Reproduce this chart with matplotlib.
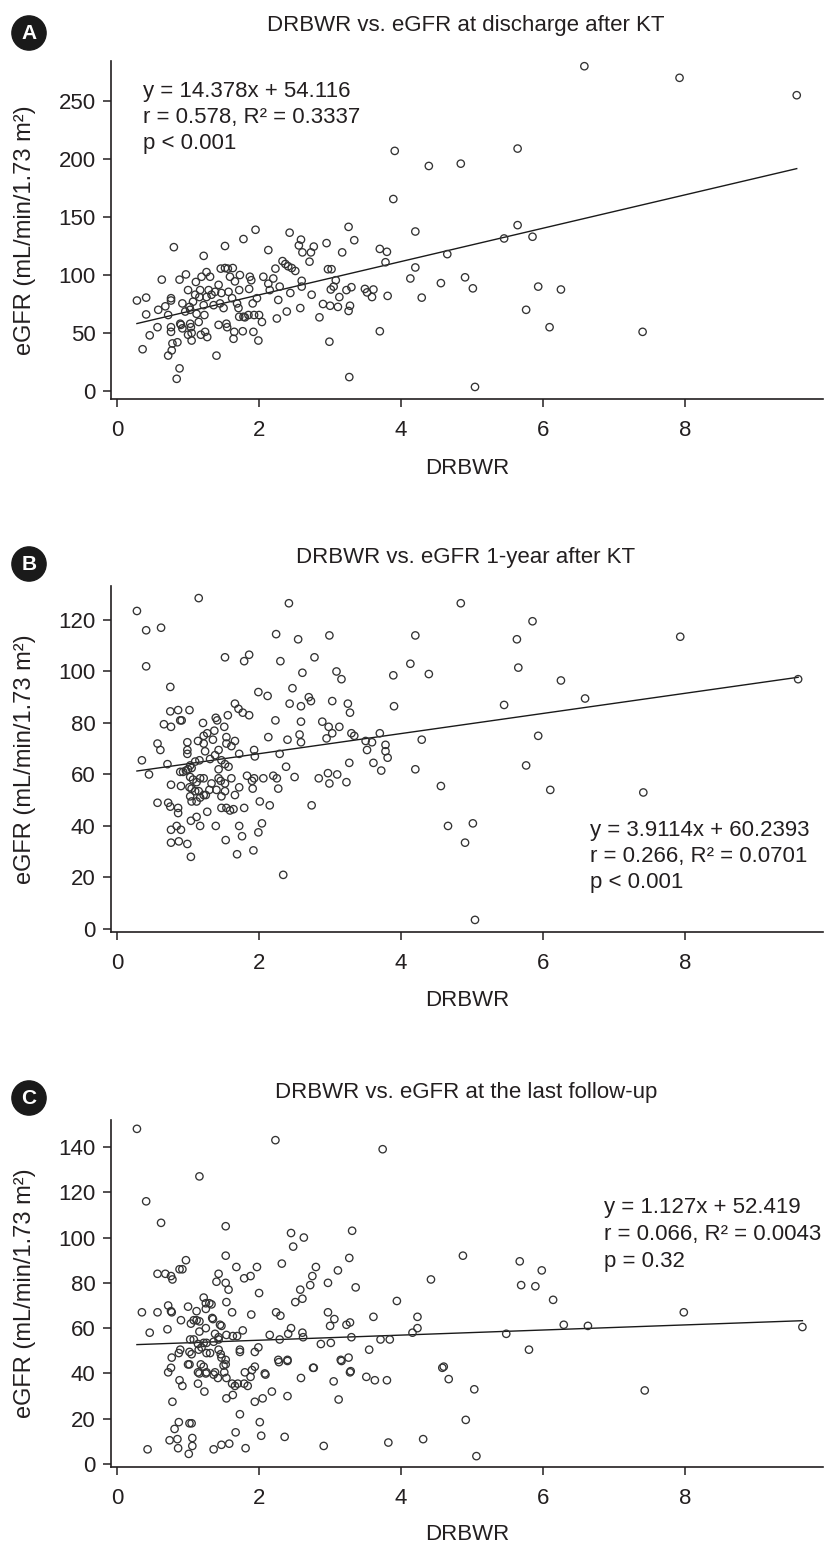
import matplotlib
matplotlib.use("Agg")
import matplotlib.pyplot as plt
from matplotlib.patches import Circle

plt.rcParams['font.family'] = ['Liberation Sans', 'DejaVu Sans']

# ---- data: DRBWR (x) vs eGFR (y) ----
# A: discharge after KT
drbwr_a = [0.28, 0.41, 0.41, 0.36, 0.46, 0.58, 0.57, 0.63, 0.68, 0.72,
           0.76, 0.76, 0.80, 0.72, 0.77, 0.78, 0.76, 0.76, 0.85, 0.88,
           0.84, 0.88, 0.97, 0.90, 0.89, 0.92, 0.96, 0.92, 1.00, 1.02,
           1.03, 1.03, 1.04, 1.05, 1.00, 1.05, 1.07, 1.10, 1.11, 1.12,
           1.15, 1.16, 1.17, 1.18, 1.19, 1.22, 1.22, 1.23, 1.24, 1.26,
           1.27, 1.26, 1.29, 1.31, 1.33, 1.36, 1.38, 1.40, 1.43, 1.43,
           1.45, 1.46, 1.47, 1.50, 1.52, 1.52, 1.54, 1.55, 1.56, 1.57,
           1.59, 1.62, 1.63, 1.64, 1.65, 1.66, 1.69, 1.71, 1.72, 1.73,
           1.72, 1.77, 1.78, 1.78, 1.80, 1.85, 1.86, 1.87, 1.89, 1.91,
           1.92, 1.93, 1.95, 1.97, 1.99, 2.00, 2.04, 2.06, 2.13, 2.13,
           2.15, 2.20, 2.23, 2.25, 2.29, 2.27, 2.33, 2.37, 2.39, 2.41,
           2.44, 2.43, 2.46, 2.51, 2.58, 2.60, 2.59, 2.56, 2.60, 2.61,
           2.74, 2.73, 2.71, 2.77, 2.85, 2.90, 2.95, 2.97, 3.00, 2.99,
           3.02, 3.01, 3.05, 3.08, 3.11, 3.13, 3.17, 3.23, 3.26, 3.26,
           3.28, 3.30, 3.27, 3.34, 3.49, 3.52, 3.59, 3.61, 3.70, 3.70,
           3.78, 3.80, 3.81, 3.89, 3.91, 4.13, 4.20, 4.20, 4.29, 4.39,
           4.56, 4.65, 4.84, 4.90, 5.01, 5.04, 5.45, 5.64, 5.64, 5.76,
           5.85, 5.93, 6.09, 6.25, 6.58, 7.40, 7.92, 9.57]
egfr_a = [78, 80.5, 66, 36, 48, 70, 55, 96, 73, 65.5,
          80, 78, 124, 30.5, 35, 41, 51, 55, 42, 19.5,
          10.5, 96, 100.5, 57, 58, 54, 68.5, 75.5, 87, 72.5,
          70, 58, 55, 50, 48.5, 43.5, 77, 83, 94, 66.5,
          59.5, 81, 87, 48.5, 98.5, 116.5, 74, 65.5, 51, 102.5,
          46.5, 81, 87, 98.5, 83, 74, 85.5, 30.5, 57, 91.5,
          75.5, 105.5, 84.5, 71.5, 125, 106, 58, 55, 105.5, 85.5,
          98.5, 80, 106, 45, 51, 94.5, 75.5, 71.5, 64, 100,
          87, 51.5, 131, 64, 63.5, 65.5, 88, 98.5, 95.5, 75.5,
          51, 65.5, 139, 80, 43.5, 65.5, 59.5, 98.5, 121.5, 92.5,
          87, 97, 105.5, 62.5, 90, 78.5, 112, 109.5, 68.5, 107.5,
          84.5, 136.5, 106, 103.5, 71.5, 90, 130.5, 125.5, 95, 119.5,
          83, 119.5, 111.5, 124.5, 63.5, 75, 127.5, 105, 73.5, 42.5,
          105, 87.5, 90, 95.5, 72.5, 81, 119.5, 87, 141.5, 69,
          73.5, 89.5, 12, 130, 88, 85, 81, 87.5, 51.5, 122.5,
          111, 120, 82, 165.5, 207, 97, 137.5, 106.5, 80.5, 194,
          93, 118, 196, 98, 88.5, 3.5, 131.5, 209, 143, 70,
          133, 90, 55, 87.5, 280, 51, 270, 255]

# B: 1 year after KT
drbwr_b = [0.28, 0.41, 0.62, 0.41, 1.15, 2.42, 0.75, 0.35, 0.45, 0.57,
           0.61, 0.71, 0.66, 0.76, 0.75, 0.86, 0.89, 0.91, 1.02, 0.99,
           0.99, 0.99, 0.89, 0.93, 0.97, 1.00, 1.03, 1.05, 1.03, 1.07,
           1.10, 1.16, 1.12, 1.17, 0.76, 0.90, 1.02, 1.05, 1.10, 1.15,
           1.03, 1.05, 1.12, 1.17, 1.22, 1.25, 1.30, 1.22, 1.33, 1.40,
           1.43, 1.46, 1.52, 1.47, 1.52, 1.61, 1.66, 1.72, 1.83, 1.90,
           1.93, 1.91, 2.06, 2.20, 2.25, 2.27, 2.38, 2.50, 2.74, 2.84,
           2.97, 2.99, 3.10, 3.23, 3.27, 3.61, 3.72, 3.81, 4.20, 4.29,
           3.78, 3.78, 3.70, 3.59, 3.52, 3.50, 3.30, 3.34, 3.28, 3.25,
           3.13, 3.03, 2.98, 2.95, 3.03, 2.89, 3.16, 3.09, 2.99, 2.78,
           2.61, 2.55, 2.30, 2.24, 2.47, 2.59, 2.70, 2.73, 2.43, 2.59,
           2.57, 2.59, 2.40, 2.23, 2.13, 2.29, 1.99, 2.12, 1.86, 1.79,
           1.52, 1.66, 1.71, 1.77, 1.86, 1.56, 1.39, 1.41, 1.51, 1.37,
           1.27, 1.22, 1.14, 1.21, 1.35, 1.54, 1.66, 1.61, 1.54, 1.72,
           1.93, 1.94, 1.43, 1.38, 1.47, 1.52, 1.57, 1.43, 1.31, 1.24,
           1.22, 0.72, 0.57, 0.75, 0.86, 0.86, 0.76, 0.84, 0.90, 0.76,
           0.87, 0.99, 1.04, 1.12, 1.17, 1.27, 1.39, 1.47, 1.54, 1.59,
           1.64, 1.79, 1.72, 1.76, 1.53, 1.69, 1.92, 2.01, 2.15, 2.04,
           1.99, 2.34, 3.89, 3.90, 4.84, 5.85, 4.20, 5.63, 7.93, 4.13,
           4.39, 5.65, 6.25, 9.59, 6.59, 5.45, 5.93, 4.56, 5.76, 6.10,
           7.41, 4.66, 5.01, 4.90, 5.04, 1.04]
egfr_b = [123.5, 116, 117, 102, 128.5, 126.5, 94, 65.5, 60, 72,
          69.5, 64, 79.5, 78.5, 84.5, 85, 81, 81, 85, 72.5,
          69.5, 68, 61, 61, 61.5, 62, 63.5, 62.5, 59, 58,
          65, 65.5, 57, 58.5, 56, 55.5, 55, 54.5, 53.5, 53.5,
          51.5, 49.5, 49.5, 51, 52, 52, 54, 58.5, 56.5, 54,
          58.5, 57.5, 56.5, 51.5, 53.5, 58.5, 52, 55, 59.5, 57.5,
          58.5, 54.5, 58.5, 59.5, 58.5, 54.5, 63, 59, 48, 58.5,
          60.5, 56.5, 60, 57, 64.5, 64.5, 61.5, 66.5, 62, 73.5,
          69, 71.5, 76, 72.5, 69.5, 73, 76, 75, 84, 87.5,
          78.5, 76, 78.5, 74, 88.5, 80.5, 97, 100, 114, 105.5,
          99.5, 112.5, 104, 114.5, 93.5, 86.5, 90, 88.5, 87.5, 80.5,
          75.5, 72.5, 73.5, 81, 74.5, 68, 92, 90.5, 106.5, 104,
          105.5, 87.5, 85.5, 84, 83, 83, 82, 81, 78.5, 77,
          76, 75, 73, 80, 73.5, 74.5, 73, 71, 72, 68,
          69.5, 67, 69.5, 67.5, 65.5, 64, 63, 62, 66, 69,
          72, 49, 49, 47.5, 47, 45, 38.5, 40, 38.5, 33.5,
          34, 33, 42, 43.5, 40, 45.5, 40, 47, 47, 46,
          46.5, 47, 40, 36, 34.5, 29, 30.5, 49.5, 48, 41,
          37.5, 21, 98.5, 86.5, 126.5, 119.5, 114, 112.5, 113.5, 103,
          99, 101.5, 96.5, 97, 89.5, 87, 75, 55.5, 63.5, 54,
          53, 40, 41, 33.5, 3.5, 28]

# C: last follow-up
drbwr_c = [0.28, 2.23, 3.74, 0.41, 1.16, 0.62, 1.53, 2.45, 2.63, 2.48,
           3.31, 3.27, 1.53, 0.97, 0.88, 0.92, 0.57, 0.68, 0.76, 0.78,
           1.43, 1.40, 1.68, 1.79, 1.88, 1.97, 2.32, 2.80, 2.75, 2.72,
           3.11, 2.97, 3.36, 2.58, 2.61, 2.51, 2.00, 1.57, 1.53, 1.54,
           1.62, 1.89, 2.24, 2.30, 2.97, 3.06, 3.00, 3.23, 3.28, 3.61,
           3.94, 4.23, 4.23, 4.16, 1.22, 1.25, 1.33, 1.30, 1.12,
           1.00, 0.72, 0.76, 0.77, 0.35, 0.57, 0.90, 1.04, 1.08, 1.12,
           1.16, 1.25, 1.34, 1.35, 1.45, 1.47, 1.16, 1.25, 0.46, 0.71,
           1.38, 1.43, 1.54, 1.63, 1.69, 1.77, 2.15, 2.29, 2.41, 2.45,
           2.61, 2.62, 3.30, 3.71, 3.84, 3.55, 3.01, 2.87, 1.03, 1.08,
           1.14, 1.22, 1.26, 1.36, 1.43, 0.89, 0.87, 0.77, 1.02, 1.05,
           1.15, 1.19, 1.26, 1.31, 1.43, 1.46, 1.47, 1.53, 1.53, 1.50,
           1.73, 1.73, 1.94, 1.99, 2.27, 2.40, 3.15, 3.26, 3.29, 2.77,
           1.00, 0.76, 0.72, 1.18, 1.22, 1.14, 1.26, 1.38, 1.51, 1.80,
           1.90, 1.94, 2.08, 0.43, 0.74, 0.85, 0.86, 0.81, 0.87, 0.78,
           0.88, 0.92, 1.02, 1.02, 1.05, 1.06, 1.06, 1.01, 1.14, 1.16,
           1.23, 1.25, 1.36, 1.42, 1.36, 1.47, 1.58, 1.54, 1.54, 1.63,
           1.66, 1.70, 1.62, 1.67, 1.73, 1.79, 1.84, 1.88, 1.94, 2.05,
           2.01, 2.03, 1.81, 2.09, 2.18, 2.28, 2.40, 2.36, 2.40, 2.59,
           2.76, 2.91, 3.05, 3.12, 3.16, 3.28, 3.51, 3.63, 3.80, 3.82,
           4.31, 4.58, 4.67, 5.03, 4.91, 5.06, 7.43, 4.87, 5.67, 5.98,
           4.42, 5.69, 5.89, 6.14, 7.98, 6.29, 6.63, 9.65, 5.48, 5.80,
           4.60]
egfr_c = [148, 143, 139, 116, 127, 106.5, 105, 102, 100, 96,
          103, 91, 92, 90, 86, 86, 84, 84, 83, 81.5,
          84, 80.5, 87, 82, 83, 87, 88.5, 87, 83, 79,
          85.5, 80, 78, 77, 73, 71.5, 75.5, 77, 80, 71.5,
          67, 66, 67, 65.5, 67, 64, 61, 61.5, 62.5, 65,
          72, 65, 60, 58, 73.5, 71, 70.5, 71, 67.5,
          69.5, 70, 67.5, 67, 67, 67, 63.5, 62, 63.5, 63.5,
          63, 68.5, 64.5, 64, 61.5, 61, 58.5, 60, 58, 59.5,
          57.5, 56, 57, 56.5, 56.5, 59, 57, 55, 57.5, 60,
          58, 56, 56, 55, 55, 50.5, 53.5, 53, 55, 55,
          53, 53.5, 53.5, 54, 55, 50.5, 49, 47, 49.5, 48.5,
          50.5, 51.5, 49, 49, 50.5, 48.5, 47, 46, 44, 43.5,
          50.5, 49.5, 49.5, 51.5, 46, 46, 46, 47, 41, 42.5,
          44, 42.5, 40.5, 44, 43, 40.5, 40.5, 40.5, 40.5, 40.5,
          41.5, 43, 40, 6.5, 10.5, 11, 7, 15.5, 18.5, 27.5,
          37, 34.5, 44, 18, 18, 11.5, 8, 4.5, 35.5, 40,
          32, 40, 39.5, 38, 6.5, 8.5, 9, 38, 29, 30.5,
          34.5, 35.5, 35.5, 14, 22, 35.5, 34.5, 38.5, 27.5, 29,
          18.5, 12.5, 7, 39.5, 32, 45, 45.5, 12, 30, 38,
          42.5, 8, 36.5, 28.5, 45.5, 40.5, 38.5, 37, 37, 9.5,
          11, 42.5, 37.5, 33, 19.5, 3.5, 32.5, 92, 89.5, 85.5,
          81.5, 79, 78.5, 72.5, 67, 61.5, 61, 60.5, 57.5, 50.5,
          43]

letters = ['A', 'B', 'C']
titles = ['DRBWR vs. eGFR at discharge after KT',
          'DRBWR vs. eGFR 1-year after KT',
          'DRBWR vs. eGFR at the last follow-up']
slopes = [14.378, 3.9114, 1.127]
intercepts = [54.116, 60.2393, 52.419]
stats = [['y = 14.378x + 54.116', 'r = 0.578, R\u00b2 = 0.3337', 'p < 0.001'],
         ['y = 3.9114x + 60.2393', 'r = 0.266, R\u00b2 = 0.0701', 'p < 0.001'],
         ['y = 1.127x + 52.419', 'r = 0.066, R\u00b2 = 0.0043', 'p = 0.32']]
yticks = [range(0, 251, 50), range(0, 121, 20), range(0, 141, 20)]
ylims = [(-6.9, 284.5), (-1.2, 133.2), (-1.3, 151.9)]

# layout in pixels
W, H = 826, 1547
boxes = [(111, 61, 823, 399), (111, 586, 823, 932), (111, 1120, 823, 1467)]
title_base = [31, 563, 1098]
badge_xy = [(29, 33), (29, 564), (29, 1098)]
stat_xy = [(143, [97, 123, 149]), (590, [836, 862, 888]), (604, [1213, 1240, 1267])]
xlabel_y = [469, 1001, 1535]
ylabel_x = 25

ink = '#231f20'
fs = 16

fig = plt.figure(figsize=(W / 100, H / 100), dpi=100)

xs = [drbwr_a, drbwr_b, drbwr_c]
ys = [egfr_a, egfr_b, egfr_c]

for i in range(3):
    l, t, r, b = boxes[i]
    ax = fig.add_axes([l / W, 1 - b / H, (r - l) / W, (b - t) / H])
    ax.scatter(xs[i], ys[i], s=28, facecolors='none', edgecolors='#333333',
               linewidths=0.95, zorder=3)
    # fitted line as printed on the chart
    x0, x1 = min(xs[i]), max(xs[i])
    ax.plot([x0, x1], [slopes[i] * x0 + intercepts[i], slopes[i] * x1 + intercepts[i]],
            color='#1a1a1a', lw=1.0, zorder=2)

    ax.set_xlim(-0.085, 9.94)
    ax.set_ylim(*ylims[i])
    ax.set_xticks([0, 2, 4, 6, 8])
    ax.set_yticks(list(yticks[i]))
    for s in ['top', 'right']:
        ax.spines[s].set_visible(False)
    for s in ['left', 'bottom']:
        ax.spines[s].set_color(ink)
        ax.spines[s].set_linewidth(1.2)
    ax.tick_params(axis='x', length=6, width=1.1, color=ink, labelsize=fs,
                   labelcolor=ink, pad=9)
    ax.tick_params(axis='y', length=6, width=1.1, color=ink, labelsize=fs,
                   labelcolor=ink, pad=5)

    ax.set_xlabel('DRBWR', fontsize=fs, color=ink)
    ax.xaxis.label.set_va('center')
    ax.xaxis.set_label_coords(0.5, -(xlabel_y[i] - b) / (b - t))
    ax.set_ylabel('eGFR (mL/min/1.73 m\u00b2)', fontsize=17, color=ink)
    ax.yaxis.label.set_va('center')
    ax.yaxis.set_label_coords((ylabel_x - l) / (r - l), 0.5)

    fig.text(466 / W, 1 - title_base[i] / H, titles[i], ha='center',
             va='baseline', fontsize=fs, color=ink)

    sx, lines_y = stat_xy[i]
    for txt, yy in zip(stats[i], lines_y):
        fig.text(sx / W, 1 - yy / H, txt, ha='left', va='baseline',
                 fontsize=fs, color=ink)

    # round letter badge
    bx, by = badge_xy[i]
    badge = fig.add_axes([(bx - 18) / W, 1 - (by + 18) / H, 36 / W, 36 / H])
    badge.set_xlim(-1, 1)
    badge.set_ylim(-1, 1)
    badge.axis('off')
    badge.add_patch(Circle((0, 0), 0.95, color='#1a1a1a'))
    badge.text(0, -0.02, letters[i], ha='center', va='center', color='white',
               fontsize=15, fontweight='bold')

fig.savefig('out.png', dpi=100)
